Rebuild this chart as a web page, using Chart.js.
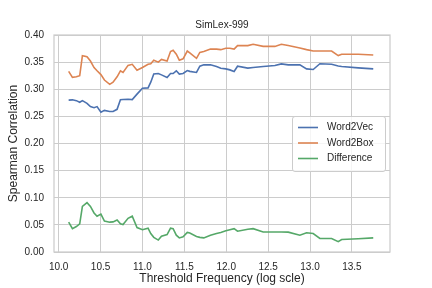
<!DOCTYPE html>
<html>
<head>
<meta charset="utf-8">
<script src="https://cdn.jsdelivr.net/npm/chart.js@4.4.0/dist/chart.umd.min.js"></script>
<style>
  html, body { margin: 0; padding: 0; background: #fff; }
  #wrap { width: 432px; height: 288px; }
</style>
</head>
<body>
<div id="wrap"><canvas id="chart" width="432" height="288"></canvas></div>
<script>
// threshold frequency (log scale)
const thresholds = [10.119, 10.164, 10.211, 10.251, 10.283, 10.338, 10.379, 10.422, 10.458, 10.504,
    10.546, 10.609, 10.649, 10.697, 10.737, 10.768, 10.828, 10.878, 10.935, 11.000,
    11.067, 11.099, 11.135, 11.189, 11.227, 11.294, 11.335, 11.366, 11.404, 11.440,
    11.485, 11.535, 11.565, 11.645, 11.685, 11.732, 11.812, 11.884, 11.935, 11.995,
    12.043, 12.094, 12.135, 12.258, 12.321, 12.441, 12.581, 12.658, 12.740, 12.879,
    12.959, 13.038, 13.118, 13.258, 13.337, 13.378, 13.576, 13.755];

const word2vec = [0.280, 0.2805, 0.279, 0.276, 0.279, 0.274, 0.268, 0.266, 0.268, 0.2575,
    0.261, 0.259, 0.259, 0.263, 0.2805, 0.281, 0.2815, 0.281, 0.291, 0.302,
    0.3025, 0.313, 0.328, 0.329, 0.3265, 0.3216, 0.329, 0.329, 0.334, 0.328,
    0.329, 0.3345, 0.333, 0.331, 0.3425, 0.345, 0.345, 0.342, 0.3387, 0.3375,
    0.3357, 0.3327, 0.3425, 0.339, 0.340, 0.342, 0.3437, 0.3467, 0.345, 0.345,
    0.3375, 0.3364, 0.347, 0.346, 0.343, 0.342, 0.3394, 0.3375];

const word2box = [0.333, 0.322, 0.323, 0.325, 0.362, 0.360, 0.352, 0.340, 0.334, 0.327,
    0.317, 0.309, 0.313, 0.323, 0.334, 0.331, 0.344, 0.346, 0.335, 0.340,
    0.346, 0.347, 0.3535, 0.350, 0.355, 0.352, 0.3695, 0.372, 0.3645, 0.3535,
    0.356, 0.3705, 0.367, 0.357, 0.368, 0.3695, 0.374, 0.374, 0.373, 0.3755,
    0.3755, 0.374, 0.3805, 0.3805, 0.383, 0.379, 0.379, 0.383, 0.3805, 0.376,
    0.373, 0.3705, 0.3705, 0.3705, 0.362, 0.3645, 0.3645, 0.363];

const difference = [0.055, 0.043, 0.047, 0.052, 0.084, 0.091, 0.084, 0.072, 0.066, 0.070,
    0.057, 0.055, 0.0555, 0.059, 0.052, 0.0506, 0.062, 0.066, 0.045, 0.041,
    0.044, 0.034, 0.027, 0.022, 0.029, 0.032, 0.044, 0.043, 0.031, 0.026,
    0.028, 0.036, 0.035, 0.0285, 0.027, 0.026, 0.031, 0.034, 0.036, 0.039,
    0.041, 0.043, 0.0384, 0.042, 0.043, 0.037, 0.037, 0.037, 0.0366, 0.031,
    0.0355, 0.034, 0.025, 0.025, 0.019, 0.023, 0.0245, 0.026];

const seriesNames = ['Word2Vec', 'Word2Box', 'Difference'];
const xTicks = [10.0, 10.5, 11.0, 11.5, 12.0, 12.5, 13.0, 13.5];
const yTicks = [0.00, 0.05, 0.10, 0.15, 0.20, 0.25, 0.30, 0.35, 0.40];

const FONT = '"Liberation Sans", Arial, sans-serif';
const TEXT = '#262626';
const GRID = '#cccccc';
const colors = ['#4c72b0', '#dd8452', '#55a868'];

const toPoints = ys => ys.map((y, i) => ({ x: thresholds[i], y: y }));

// title, frame and legend drawn on top (matplotlib style)
const decor = {
    id: 'decor',
    afterDatasetsDraw(chart) {
        const ctx = chart.ctx;
        const a = chart.chartArea;
        ctx.save();
        ctx.strokeStyle = GRID;
        ctx.lineWidth = 1.25;
        ctx.strokeRect(a.left, a.top, a.right - a.left, a.bottom - a.top);

        ctx.fillStyle = TEXT;
        ctx.font = '10px ' + FONT;
        ctx.textAlign = 'center';
        ctx.textBaseline = 'middle';
        ctx.fillText('SimLex-999', (a.left + a.right) / 2, 25);

        // legend, center right
        const w = 93, h = 55;
        const lx = a.right - 5 - w;
        const ly = (a.top + a.bottom) / 2 - h / 2;
        ctx.beginPath();
        ctx.roundRect(lx + 0.5, ly + 0.5, w, h, 2.5);
        ctx.fillStyle = 'rgba(255,255,255,0.8)';
        ctx.fill();
        ctx.strokeStyle = GRID;
        ctx.lineWidth = 1;
        ctx.stroke();
        ctx.textAlign = 'left';
        chart.data.datasets.forEach((ds, i) => {
            const y = ly + 11.5 + i * 15.5;
            ctx.strokeStyle = ds.borderColor;
            ctx.lineWidth = 1.6;
            ctx.beginPath();
            ctx.moveTo(lx + 6, y);
            ctx.lineTo(lx + 26, y);
            ctx.stroke();
            ctx.fillStyle = TEXT;
            ctx.fillText(ds.label, lx + 35, y);
        });
        ctx.restore();
    }
};

new Chart(document.getElementById('chart'), {
    type: 'line',
    data: {
        datasets: [word2vec, word2box, difference].map((ys, i) => ({
            label: seriesNames[i],
            data: toPoints(ys),
            borderColor: colors[i],
            backgroundColor: colors[i],
            borderWidth: 1.6,
            pointRadius: 0,
            tension: 0,
            fill: false
        }))
    },
    options: {
        responsive: false,
        animation: false,
        devicePixelRatio: 1,
        layout: { padding: { left: 0, right: 42, top: 35, bottom: 0 } },
        plugins: {
            legend: { display: false },
            title: { display: false },
            tooltip: { enabled: false }
        },
        scales: {
            x: {
                type: 'linear',
                min: 9.944,
                max: 13.955,
                afterFit: s => { s.height = 36; },
                afterBuildTicks: s => { s.ticks = xTicks.map(v => ({ value: v })); },
                grid: { color: GRID, lineWidth: 1, drawTicks: false },
                border: { display: false },
                ticks: {
                    padding: 9,
                    color: TEXT,
                    font: { family: FONT, size: 10 },
                    maxRotation: 0,
                    callback: v => v.toFixed(1)
                },
                title: {
                    display: true,
                    text: 'Threshold Frequency (log scle)',
                    color: TEXT,
                    font: { family: FONT, size: 12 },
                    padding: { top: 0, bottom: 2 }
                }
            },
            y: {
                min: 0,
                max: 0.4,
                afterFit: s => { s.width = 54; },
                afterBuildTicks: s => { s.ticks = yTicks.map(v => ({ value: v })); },
                grid: { color: GRID, lineWidth: 1, drawTicks: false },
                border: { display: false },
                ticks: {
                    padding: 10,
                    color: TEXT,
                    font: { family: FONT, size: 10 },
                    callback: v => v.toFixed(2)
                },
                title: {
                    display: true,
                    text: 'Spearman Correlation',
                    color: TEXT,
                    font: { family: FONT, size: 12 },
                    padding: { top: 6, bottom: 0 }
                }
            }
        }
    },
    plugins: [decor]
});
</script>
</body>
</html>
